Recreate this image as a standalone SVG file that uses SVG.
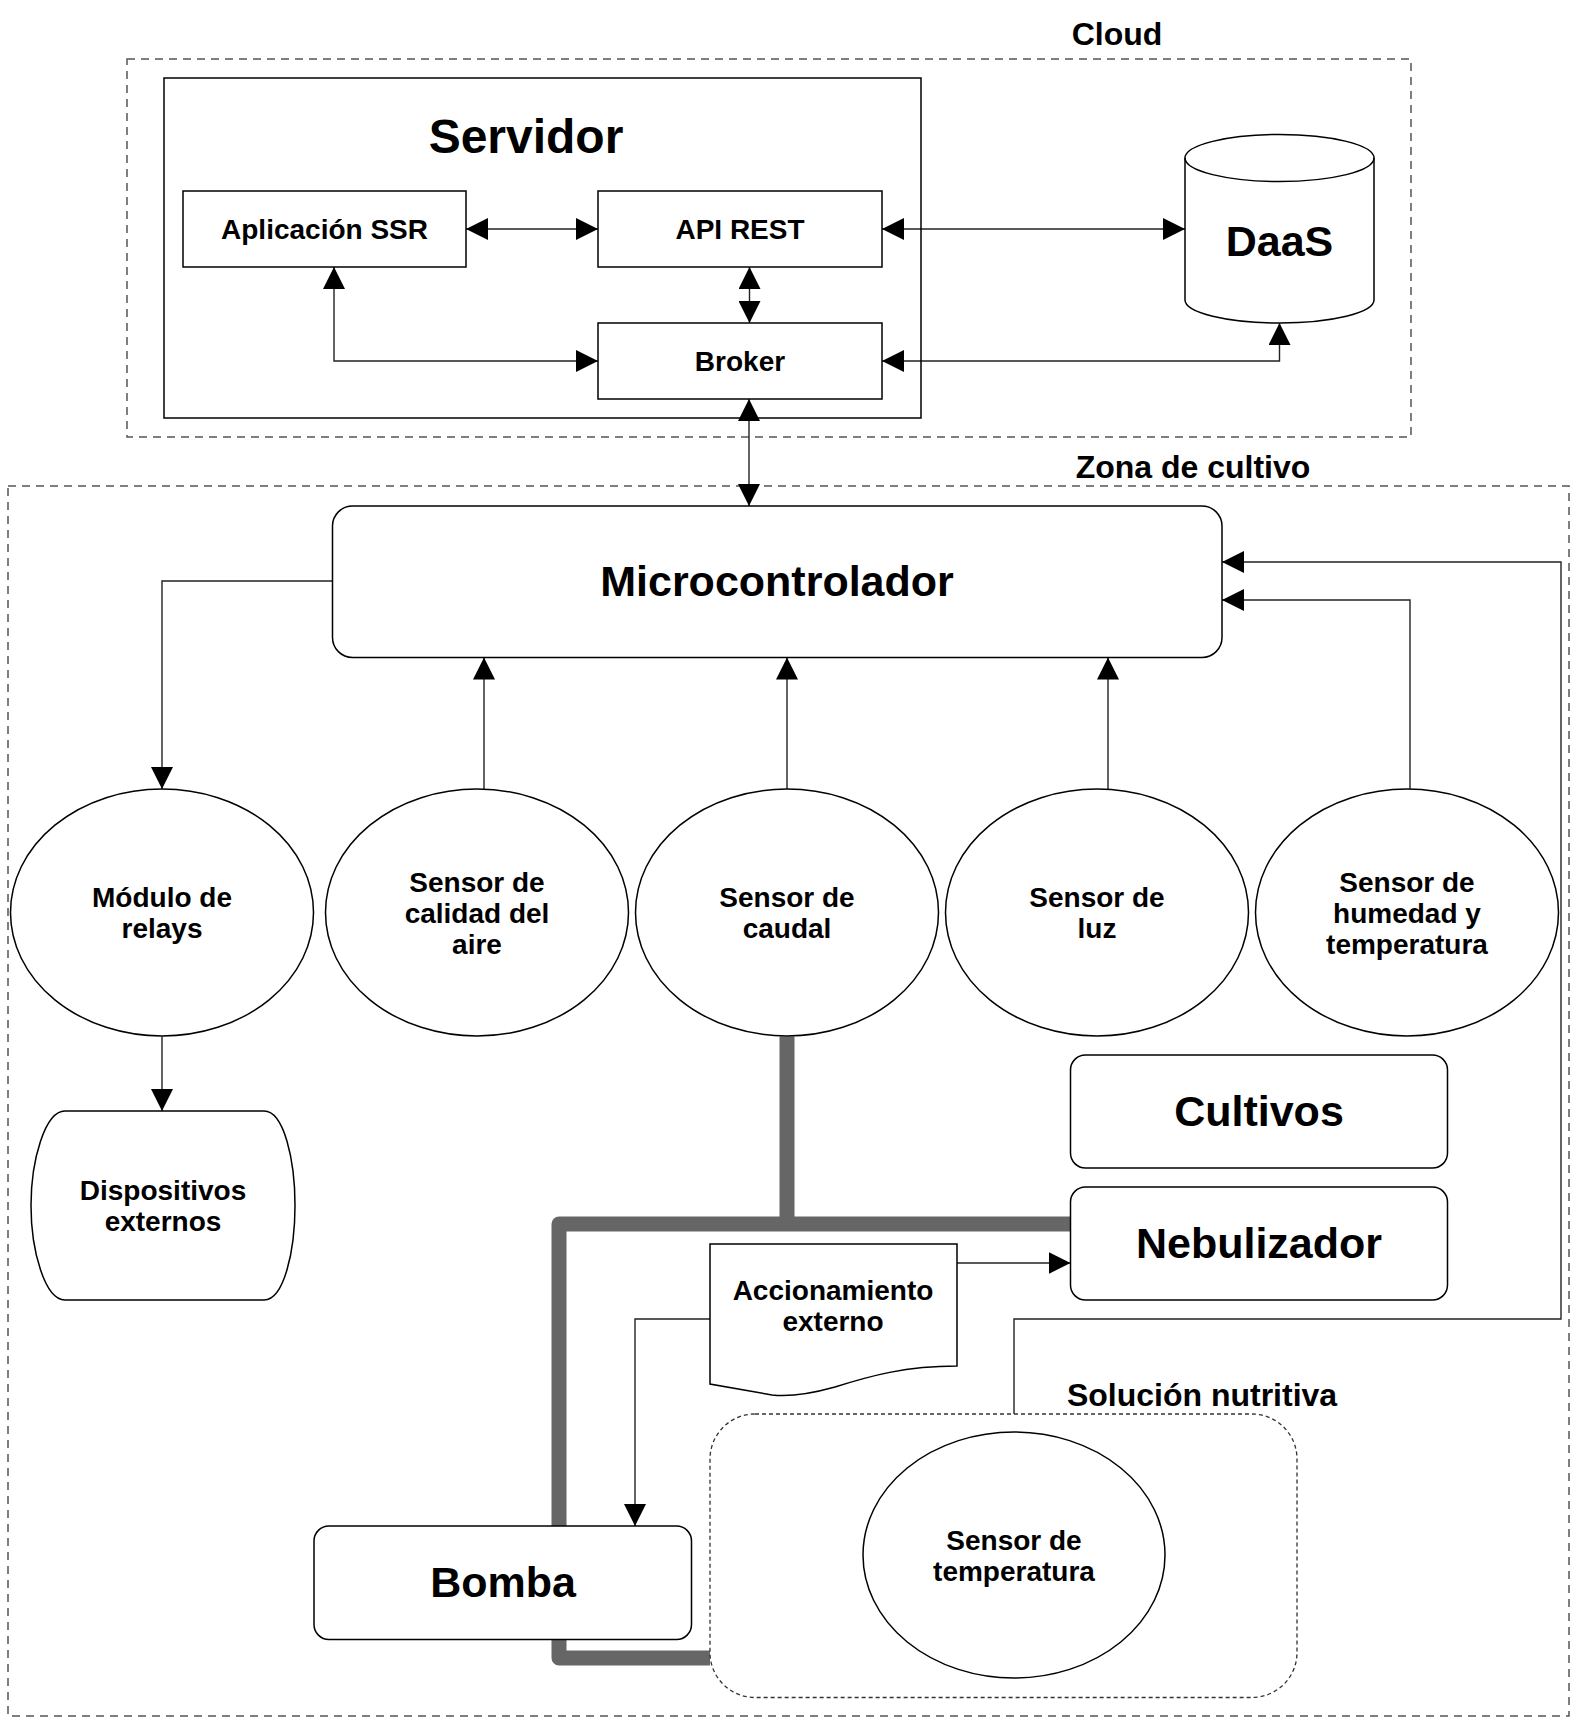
<svg xmlns="http://www.w3.org/2000/svg" width="1578" height="1732" viewBox="0 0 1578 1732">
<style>
text{font-family:"Liberation Sans",Arial,sans-serif;font-weight:bold;fill:#000;text-anchor:middle}
.box{fill:#fff;stroke:#000;stroke-width:1.5}
.zone{fill:none;stroke:#555;stroke-width:1.5;stroke-dasharray:8 6}
.zone2{fill:none;stroke:#333;stroke-width:1.3;stroke-dasharray:4 3}
.c{fill:none;stroke:#222;stroke-width:1.4}
.pipe{fill:none;stroke:#666;stroke-width:15;stroke-linejoin:round;stroke-linecap:butt}
.t27{font-size:28px}
.t31{font-size:32px}
.t42{font-size:43px}
</style>
<defs>
<marker id="a" markerUnits="userSpaceOnUse" markerWidth="22" markerHeight="22" viewBox="0 0 22 22" refX="22" refY="11" orient="auto-start-reverse">
<path d="M0,0 L22,11 L0,22 Z" fill="#000"/>
</marker>
</defs>
<rect width="1578" height="1732" fill="#fff"/>

<g id="cloud">
<rect class="zone" x="127" y="59" width="1284" height="378"/>
<text class="t31" x="1117" y="45">Cloud</text>
</g>
<g id="zona-cultivo">
<rect class="zone" x="8" y="486" width="1561" height="1230"/>
<text class="t31" x="1193" y="478">Zona de cultivo</text>
</g>

<g id="connectors">
<path class="c" d="M466,229 H598" marker-start="url(#a)" marker-end="url(#a)"/>
<path class="c" d="M749.5,267 V323" marker-start="url(#a)" marker-end="url(#a)"/>
<path class="c" d="M334,267 V361 H598" marker-start="url(#a)" marker-end="url(#a)"/>
<path class="c" d="M882,229 H1185" marker-start="url(#a)" marker-end="url(#a)"/>
<path class="c" d="M882,361 H1279.5 V323" marker-start="url(#a)" marker-end="url(#a)"/>
<path class="c" d="M749,399 V506" marker-start="url(#a)" marker-end="url(#a)"/>
<path class="c" d="M332,581 H162 V789" marker-end="url(#a)"/>
<path class="c" d="M484,789 V657.5" marker-end="url(#a)"/>
<path class="c" d="M787,789 V657.5" marker-end="url(#a)"/>
<path class="c" d="M1108,789 V657.5" marker-end="url(#a)"/>
<path class="c" d="M1410,789 V600 H1222" marker-end="url(#a)"/>
<path class="c" d="M1014,1414 V1319 H1561 V562 H1222" marker-end="url(#a)"/>
<path class="c" d="M162,1036.5 V1111" marker-end="url(#a)"/>
<path class="c" d="M957,1263 H1070.5" marker-end="url(#a)"/>
<path class="c" d="M710,1319 H635 V1526" marker-end="url(#a)"/>
<path class="pipe" d="M787,1036.5 V1224"/>
<path class="pipe" d="M1070.5,1224 H559 V1658 H710"/>
</g>

<g id="servidor">
<rect x="164" y="78" width="757" height="340" fill="none" stroke="#000" stroke-width="1.5"/>
<text x="526" y="153" style="font-size:48px">Servidor</text>
</g>
<g id="aplicacion-ssr">
<rect class="box" x="183" y="191" width="283" height="76"/>
<text class="t27" x="324.5" y="239">Aplicación SSR</text>
</g>
<g id="api-rest">
<rect class="box" x="598" y="191" width="284" height="76"/>
<text class="t27" x="740" y="239">API REST</text>
</g>
<g id="broker">
<rect class="box" x="598" y="323" width="284" height="76"/>
<text class="t27" x="740" y="371">Broker</text>
</g>
<g id="daas">
<path class="box" d="M1185,158 A94.5,23.5 0 0 1 1374,158 V300 A94.5,23 0 0 1 1185,300 Z"/>
<path fill="none" stroke="#000" stroke-width="1.5" d="M1185,158 A94.5,23.5 0 0 0 1374,158"/>
<text class="t42" x="1279.5" y="256">DaaS</text>
</g>

<g id="microcontrolador">
<rect class="box" x="332.5" y="506" width="889.5" height="151.5" rx="20"/>
<text class="t42" x="777" y="596">Microcontrolador</text>
</g>
<g id="modulo-relays">
<ellipse class="box" cx="162" cy="912.5" rx="151.5" ry="123.5"/>
<text class="t27" x="162" y="907">Módulo de</text>
<text class="t27" x="162" y="938">relays</text>
</g>
<g id="sensor-calidad-aire">
<ellipse class="box" cx="477" cy="912.5" rx="151.5" ry="123.5"/>
<text class="t27" x="477" y="892">Sensor de</text>
<text class="t27" x="477" y="923">calidad del</text>
<text class="t27" x="477" y="954">aire</text>
</g>
<g id="sensor-caudal">
<ellipse class="box" cx="787" cy="912.5" rx="151.5" ry="123.5"/>
<text class="t27" x="787" y="907">Sensor de</text>
<text class="t27" x="787" y="938">caudal</text>
</g>
<g id="sensor-luz">
<ellipse class="box" cx="1097" cy="912.5" rx="151.5" ry="123.5"/>
<text class="t27" x="1097" y="907">Sensor de</text>
<text class="t27" x="1097" y="938">luz</text>
</g>
<g id="sensor-humedad-temperatura">
<ellipse class="box" cx="1407" cy="912.5" rx="151.5" ry="123.5"/>
<text class="t27" x="1407" y="892">Sensor de</text>
<text class="t27" x="1407" y="923">humedad y</text>
<text class="t27" x="1407" y="954">temperatura</text>
</g>
<g id="dispositivos-externos">
<path class="box" d="M65,1111 H264 C284,1111 295,1160 295,1205.5 C295,1251 284,1300 264,1300 H65 C45,1300 31,1251 31,1205.5 C31,1160 45,1111 65,1111 Z"/>
<text class="t27" x="163" y="1200">Dispositivos</text>
<text class="t27" x="163" y="1231">externos</text>
</g>
<g id="cultivos">
<rect class="box" x="1070.5" y="1055" width="377" height="113" rx="15"/>
<text class="t42" x="1259" y="1126">Cultivos</text>
</g>
<g id="nebulizador">
<rect class="box" x="1070.5" y="1187" width="377" height="113" rx="15"/>
<text class="t42" x="1259" y="1258">Nebulizador</text>
</g>
<g id="accionamiento-externo">
<path class="box" d="M710,1244 H957 V1366 C905,1366 870,1376 835,1387 C810,1394 790,1397 772,1395 L710,1384 Z"/>
<text class="t27" x="833" y="1300">Accionamiento</text>
<text class="t27" x="833" y="1331">externo</text>
</g>
<g id="bomba">
<rect class="box" x="314" y="1526" width="377.5" height="113.5" rx="15"/>
<text class="t42" x="503" y="1597">Bomba</text>
</g>
<g id="solucion-nutritiva">
<rect class="zone2" x="710" y="1414" width="587" height="283.5" rx="45"/>
<text class="t31" x="1202" y="1406">Solución nutritiva</text>
</g>
<g id="sensor-temperatura">
<ellipse class="box" cx="1014" cy="1555" rx="151" ry="123"/>
<text class="t27" x="1014" y="1550">Sensor de</text>
<text class="t27" x="1014" y="1581">temperatura</text>
</g>
</svg>
